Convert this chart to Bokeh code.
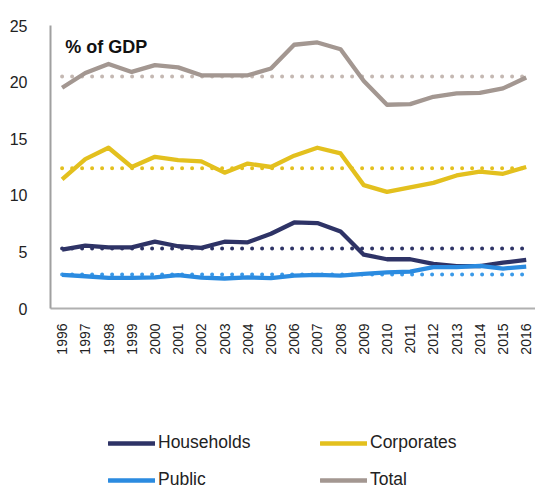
import numpy as np
from bokeh.plotting import figure
from bokeh.layouts import column
from bokeh.models import Range1d, FixedTicker, Legend, LegendItem, Label
from bokeh.embed import file_html
from bokeh.resources import INLINE

years = list(range(1996, 2017))
households = [5.2, 5.55, 5.4, 5.4, 5.9, 5.5, 5.35, 5.9, 5.85, 6.6, 7.6, 7.55, 6.8, 4.75, 4.35, 4.35, 3.95, 3.75, 3.75, 4.05, 4.3]
corporates = [11.4, 13.2, 14.2, 12.5, 13.4, 13.1, 13.0, 12.0, 12.8, 12.5, 13.5, 14.2, 13.7, 10.9, 10.3, 10.7, 11.1, 11.75, 12.1, 11.9, 12.5]
public = [2.97, 2.85, 2.7, 2.7, 2.75, 2.95, 2.72, 2.65, 2.75, 2.68, 2.9, 2.97, 2.9, 3.05, 3.2, 3.25, 3.65, 3.65, 3.77, 3.53, 3.7]
total = [19.5, 20.8, 21.6, 20.9, 21.5, 21.3, 20.6, 20.6, 20.6, 21.2, 23.3, 23.5, 22.9, 20.1, 18.0, 18.05, 18.7, 19.0, 19.05, 19.45, 20.4]
avg_households = 5.3
avg_corporates = 12.4
avg_public = 3.0
avg_total = 20.5

names = ["Households", "Corporates", "Public", "Total"]
series = [households, corporates, public, total]
avgs = [avg_households, avg_corporates, avg_public, avg_total]
colors = ["#2e3366", "#e3c01e", "#2b8be0", "#a39791"]
dot_colors = ["#2e3366", "#e3c01e", "#3b9ae8", "#c4b8b2"]

p = figure(width=535, height=380, output_backend="svg", toolbar_location=None,
           x_range=Range1d(1995.5, 2016.4), y_range=Range1d(0, 25),
           min_border_left=50, min_border_right=0, min_border_top=25,
           min_border_bottom=72)
p.outline_line_color = None
p.xgrid.grid_line_color = None
p.ygrid.grid_line_color = None

p.xaxis.ticker = FixedTicker(ticks=years)
p.xaxis.major_label_orientation = np.pi / 2
p.xaxis.major_label_text_font = "Liberation Sans"
p.xaxis.major_label_text_font_size = "14px"
p.xaxis.major_label_text_color = "#222222"
p.xaxis.major_tick_line_color = None
p.xaxis.minor_tick_line_color = None
p.xaxis.major_label_standoff = 9
p.xaxis.axis_line_color = "#b0b0b0"
p.xaxis.axis_line_width = 2

p.yaxis.ticker = FixedTicker(ticks=[0, 5, 10, 15, 20, 25])
p.yaxis.major_label_text_font = "Liberation Sans"
p.yaxis.major_label_text_font_size = "16px"
p.yaxis.major_label_text_color = "#222222"
p.yaxis.major_tick_line_color = None
p.yaxis.minor_tick_line_color = None
p.yaxis.major_label_standoff = 17
p.yaxis.axis_line_color = "#a0a0a0"
p.yaxis.axis_line_width = 2

for a, c in zip(avgs, dot_colors):
    p.line([years[0], years[-1]], [a, a], line_color=c, line_width=4,
           line_dash="0 10", line_cap="round")

for s, c in zip(series, colors):
    p.line(years, s, line_color=c, line_width=4.3, line_join="round")

p.add_layout(Label(x=1996.14, y=23.14, text="% of GDP", text_font="Liberation Sans",
                   text_font_size="18px", text_font_style="bold",
                   text_color="#111111", text_baseline="alphabetic"))

# legend strip (its series lie outside its own ranges; only the legend shows)
lg = figure(width=535, height=108, output_backend="svg", toolbar_location=None,
            x_range=Range1d(0, 1), y_range=Range1d(0, 1),
            min_border_left=50, min_border_right=0, min_border_top=0,
            min_border_bottom=0, x_axis_location=None, y_axis_location=None)
lg.outline_line_color = None
lg.xgrid.grid_line_color = None
lg.ygrid.grid_line_color = None
leg_renderers = [lg.line(years, s, line_color=c, line_width=4.3, line_cap="round")
                 for s, c in zip(series, colors)]
items = [LegendItem(label=n, renderers=[r]) for n, r in zip(names, leg_renderers)]
legend = Legend(items=items, orientation="horizontal", ncols=2,
                location=(58, -2), padding=0, margin=0, spacing=16,
                glyph_width=47, glyph_height=16, label_height=16,
                label_width=146, label_standoff=3,
                label_text_font="Liberation Sans", label_text_font_size="17.5px",
                label_text_color="#222222", border_line_color=None,
                background_fill_alpha=0)
lg.add_layout(legend, "center")

layout = column(p, lg, spacing=0)
open("out.html", "w").write(file_html(layout, INLINE))
